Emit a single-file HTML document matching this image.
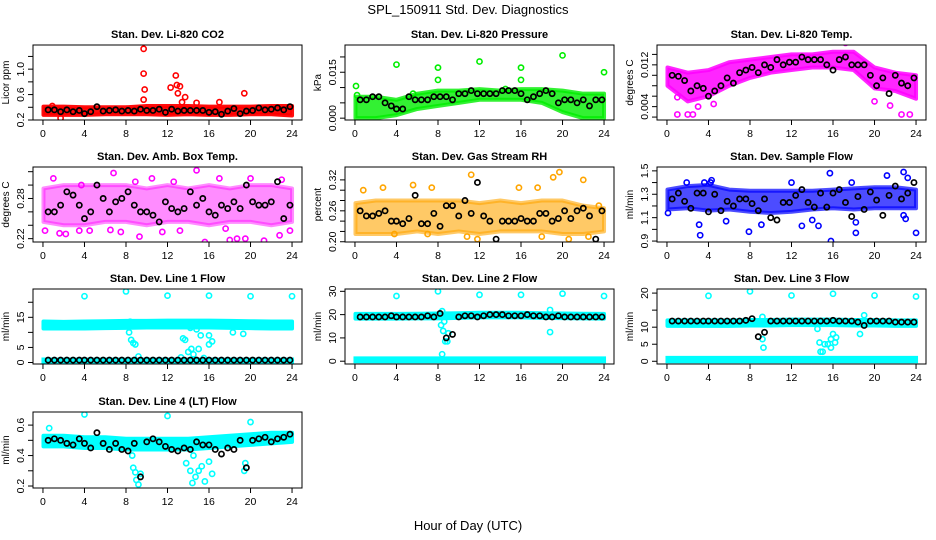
<!DOCTYPE html>
<html><head><meta charset="utf-8"><style>
body{margin:0;background:#fff;}
svg{display:block;font-family:"Liberation Sans",sans-serif;}
</style></head><body>
<svg id="chart" width="936" height="540" viewBox="0 0 936 540">
<text x="468" y="14" text-anchor="middle" font-size="13">SPL_150911  Std. Dev. Diagnostics</text>
<text x="468" y="530" text-anchor="middle" font-size="13">Hour of Day (UTC)</text>
</svg>
<script>
// ---- shared data ----
const hourTicks = [0,4,8,12,16,20,24];
const bandHours = [0,2,4,6,8,10,12,14,16,18,20,22,24];
const blackHours = [0.5,1.1,1.7,2.3,2.9,3.5,4.0,4.6,5.2,5.8,6.4,7.0,7.6,8.2,8.8,9.4,10.0,10.6,11.2,11.8,12.4,13.0,13.6,14.2,14.8,15.4,16.0,16.6,17.2,17.8,18.4,19.0,19.6,20.2,20.8,21.4,22.0,22.6,23.2,23.8];

// CO2
const co2Lo = [.28,.28,.28,.29,.29,.29,.28,.29,.28,.28,.29,.29,.27];
const co2Hi = [.41,.41,.40,.40,.40,.42,.42,.42,.41,.41,.41,.42,.42];
const co2Out = [[9.7,1.32],[9.7,0.93],[9.8,0.68],[9.7,0.52],[12.8,0.9],[12.3,0.71],[12.9,0.75],[13.2,0.73],[13,0.62],[13.7,0.56],[19.4,0.62],[1.7,0.23],[17,0.48],[14.8,0.47],[13.4,0.48],[0.9,0.42]];
const co2Black = [.36,.36,.33,.36,.33,.35,.30,.33,.41,.34,.35,.36,.34,.35,.34,.37,.35,.35,.37,.32,.37,.34,.35,.35,.35,.35,.32,.33,.29,.34,.38,.30,.34,.35,.39,.36,.37,.39,.36,.41];
// Pressure
const presLo = [.000,.000,.001,.003,.004,.005,.006,.006,.006,.005,.002,.000,.000];
const presHi = [.007,.007,.006,.008,.009,.009,.0095,.009,.0095,.0095,.009,.008,.008];
const presOut = [[0.1,0.0105],[4,0.0175],[8,0.0165],[8,0.0125],[12,0.0185],[16,0.0165],[16,0.0125],[20,0.0205],[24,0.015],[0.2,0.0075],[5.6,0.008],[14.5,0.0095]];
const presBlack = [.006,.006,.007,.007,.005,.004,.003,.003,.007,.006,.006,.006,.007,.007,.007,.006,.008,.008,.009,.008,.008,.008,.008,.009,.009,.009,.008,.006,.007,.008,.009,.008,.005,.006,.006,.005,.006,.004,.006,.006];
// Temp
const tempLo = [.008,.005,.006,.008,.0095,.0105,.011,.0115,.0115,.011,.0075,.007,.0055];
const tempHi = [.0115,.0105,.011,.0125,.013,.0135,.014,.014,.0145,.0145,.0115,.0105,.010];
const tempOut = [[1,0.0025],[2,0.0025],[2.5,0.0025],[17.2,0.0162],[22.6,0.0025],[23.4,0.0025],[4.5,0.0045],[20,0.005],[1,0.0058],[3,0.004],[21.5,0.0042]];
const tempBlack = [.010,.0098,.009,.007,.008,.0075,.006,.007,.008,.0095,.0085,.0105,.011,.0115,.0105,.012,.0115,.013,.012,.0125,.0125,.0135,.013,.013,.013,.012,.011,.013,.0135,.012,.012,.012,.010,.008,.0095,.0065,.010,.0085,.008,.0095];
// Amb box
const ambLo = [.245,.24,.24,.245,.245,.24,.245,.245,.24,.245,.245,.24,.245];
const ambHi = [.295,.30,.30,.30,.30,.295,.30,.295,.30,.295,.30,.30,.295];
const ambOut = [[6.8,0.318],[14.8,0.322],[12.6,0.305],[17,0.31],[20,0.31],[23,0.308],[15.6,0.215],[18,0.218],[18.7,0.22],[19.5,0.22],[21.3,0.217],[1.6,0.228],[2.2,0.227],[0.2,0.232],[3.5,0.232],[4.5,0.232],[6.5,0.233],[7.5,0.23],[9.3,0.223],[11.5,0.23],[22.8,0.225],[23.8,0.232],[17.6,0.235],[13.2,0.232],[10.5,0.31],[8.9,0.305],[3.7,0.3],[1,0.31]];
const ambBlack = [.26,.26,.27,.29,.285,.27,.25,.26,.30,.28,.26,.275,.28,.29,.27,.26,.26,.255,.245,.275,.265,.26,.265,.29,.27,.28,.26,.255,.27,.265,.275,.265,.30,.275,.27,.27,.275,.305,.25,.27];
// RH
const rhLo = [.215,.215,.215,.22,.215,.22,.215,.22,.22,.22,.215,.215,.22];
const rhHi = [.275,.28,.28,.28,.28,.28,.275,.28,.275,.28,.28,.27,.265];
const rhOut = [[11.2,0.33],[19.7,0.335],[19.1,0.325],[22,0.32],[0.8,0.30],[2.7,0.305],[5.6,0.31],[7.4,0.305],[15.8,0.305],[17.6,0.305],[11.8,0.205],[18,0.21],[20.6,0.205],[22.5,0.21],[3.8,0.215],[7,0.215],[10.8,0.21],[23.5,0.27]];
const rhBlack = [.26,.25,.25,.255,.26,.24,.24,.235,.245,.29,.235,.235,.255,.23,.27,.27,.25,.28,.255,.315,.25,.24,.205,.24,.24,.24,.245,.24,.24,.255,.255,.24,.245,.26,.245,.26,.265,.25,.205,.26];
// Sample flow
const sfLo = [1.17,1.18,1.16,1.17,1.15,1.14,1.15,1.17,1.18,1.17,1.18,1.18,1.18];
const sfHi = [1.34,1.37,1.38,1.34,1.33,1.33,1.33,1.33,1.34,1.35,1.36,1.36,1.34];
const sfOut = [[0.1,1.14],[3.1,1.04],[3.2,0.95],[7.9,0.98],[13,1.03],[14.6,1.03],[15.7,1.48],[15.8,0.9],[18.2,1.06],[18.2,0.97],[22.8,1.49],[23.2,1.44],[24,0.97],[3.6,1.4],[21.2,1.46],[17.8,1.4],[1.9,1.4],[4.2,1.4],[4.3,1.42],[9.1,1.04],[12,1.4],[23,1.09],[22.8,1.12],[5.7,1.07],[14,1.08]];
const sfBlack = [1.26,1.31,1.24,1.18,1.31,1.31,1.15,1.30,1.16,1.24,1.20,1.26,1.26,1.22,1.16,1.26,1.10,1.08,1.23,1.23,1.29,1.34,1.23,1.19,1.31,1.19,1.31,1.34,1.23,1.11,1.28,1.17,1.32,1.25,1.12,1.29,1.37,1.26,1.31,1.40];
// Line 1
const l1Lo = [11.3,11.3,11.3,11.4,11.5,11.6,11.6,11.6,11.6,11.5,11.4,11.3,11.3];
const l1Hi = [13.6,13.5,13.6,13.7,13.8,13.8,13.9,13.9,13.9,13.8,13.7,13.6,13.6];
const l1BaseHi = [1.0,1.0,1.0,1.0,1.0,1.0,1.0,1.0,1.0,1.0,1.0,1.0,1.0];
const l1Out = [[4,22],[8,23.6],[12,22.2],[16,22.2],[20,22],[24,22],[8.3,10],[8.5,7.5],[8.7,6.5],[8.9,6],[9.2,2],[13.3,1.7],[13.5,8],[13.7,7.5],[14,3.5],[14.3,4.5],[14.5,2.7],[15,4.5],[14.8,11],[15.2,9],[15.5,1.5],[16,6],[16,9],[16.3,7],[18.3,10],[19.3,9.5],[8.4,13.5],[14.2,11.5]];
const l1Black = [.8,.8,.8,.8,.8,.8,.8,.8,.8,.8,.8,.8,.8,.8,.8,.8,.8,.8,.8,.8,.8,.8,.8,.8,.8,.8,.8,.8,.8,.8,.8,.8,.8,.8,.8,.8,.8,.8,.8,.8];
// Line 2
const l2Lo = [18.3,18.3,18.3,18.4,18.4,18.6,18.8,18.8,18.8,18.6,18.5,18.4,18.3];
const l2Hi = [20.3,20.3,20.3,20.4,20.5,20.6,20.8,20.8,20.8,20.6,20.5,20.4,20.3];
const l2BaseHi = [1.2,1.2,1.2,1.2,1.2,1.2,1.2,1.2,1.2,1.2,1.2,1.2,1.2];
const l2Out = [[4,28],[8,30],[12,28.5],[16,28.5],[20,29],[24,28],[8.4,21.5],[8.3,15.5],[8.5,13],[8.7,8.5],[8.9,8.5],[8.4,3],[18.8,22],[18.8,12.5],[8.6,17],[9,12]];
const l2Black = [19,19,19,19,19,19.5,19,19,19,19,19,19.5,19,20.5,10,11.5,19,19.5,19.5,19,19.5,20,20,20,19.5,19.5,19.5,20,19.5,19.5,19,19,19.5,19,19,19,19,19,19,19];
// Line 3
const l3Lo = [10.4,10.4,10.4,10.4,10.5,10.5,10.6,10.6,10.6,10.5,10.5,10.4,10.4];
const l3Hi = [12.0,12.0,12.0,12.0,12.1,12.1,12.2,12.2,12.2,12.1,12.1,12.0,12.0];
const l3BaseHi = [1.0,1.0,1.0,1.0,1.0,1.0,1.0,1.0,1.0,1.0,1.0,1.0,1.0];
const l3Out = [[4,19.2],[8,20.5],[12,19.3],[16,19.8],[20,19.3],[24,19],[9.2,13],[9.3,4],[9.2,6.5],[14.5,9.5],[14.7,5.5],[14.8,2.8],[15.2,5],[15.5,5],[15.8,6.5],[16,8],[16.2,5.5],[15.8,4],[16.3,7],[19,13.5],[18.6,8],[15,2.8]];
const l3Black = [11.8,11.8,11.8,11.8,11.8,11.8,11.8,11.8,11.8,11.8,11.8,11.8,12,12.5,7.2,8.5,11.8,11.8,11.8,11.8,11.8,11.8,11.8,11.8,11.8,11.8,12,11.8,11.8,11.8,11.5,10.5,11.8,11.8,11.8,11.8,11.5,11.5,11.5,11.5];
// Line 4
const l4Lo = [.46,.46,.45,.45,.44,.44,.44,.44,.45,.46,.47,.48,.49];
const l4Hi = [.53,.53,.52,.52,.51,.51,.51,.51,.52,.53,.54,.55,.55];
const l4Out = [[4,0.67],[12,0.66],[20,0.62],[8.7,0.32],[9,0.24],[9.2,0.21],[9.4,0.28],[8.9,0.29],[13.8,0.35],[14.2,0.3],[14.4,0.22],[14.7,0.26],[15,0.3],[15.3,0.33],[15.6,0.23],[16,0.36],[16.3,0.28],[19.5,0.35],[19.4,0.3],[0.6,0.58],[8.6,0.4],[14.5,0.4]];
const l4Black = [.50,.51,.50,.48,.47,.51,.48,.45,.55,.48,.44,.48,.44,.43,.48,.26,.49,.51,.49,.46,.44,.43,.45,.44,.49,.47,.47,.44,.41,.45,.44,.50,.32,.50,.51,.52,.49,.51,.52,.54];

// ---- panel config ----
const panels = [
 {key:'co2',title:'Stan. Dev. Li-820 CO2',ylab:'Licor ppm',col:'#ff0000',op:0.95,ylim:[0.2,1.38],ticks:[.2,.4,.6,.8,1.0,1.2],labels:['0.2','0.6','1.0'],lo:co2Lo,hi:co2Hi,out:co2Out,blk:co2Black},
 {key:'pressure',title:'Stan. Dev. Li-820 Pressure',ylab:'kPa',col:'#00ee00',op:0.8,ylim:[-0.0006,0.0239],ticks:[0,.005,.01,.015,.02],labels:['0.000','0.015'],lo:presLo,hi:presHi,out:presOut,blk:presBlack},
 {key:'temp',title:'Stan. Dev. Li-820 Temp.',ylab:'degrees C',col:'#ff00ff',op:0.85,ylim:[0.00144,0.0158],ticks:[.002,.004,.006,.008,.01,.012,.014],labels:['0.004','0.012'],lo:tempLo,hi:tempHi,out:tempOut,blk:tempBlack},
 {key:'ambbox',title:'Stan. Dev. Amb. Box Temp.',ylab:'degrees C',col:'#ff00ff',op:0.45,ylim:[0.215,0.327],ticks:[.22,.24,.26,.28,.30,.32],labels:['0.22','0.28'],lo:ambLo,hi:ambHi,out:ambOut,blk:ambBlack},
 {key:'rh',title:'Stan. Dev. Gas Stream RH',ylab:'percent',col:'#ffa500',op:0.6,ylim:[0.1995,0.345],ticks:[.20,.22,.24,.26,.28,.30,.32],labels:['0.20','0.26','0.32'],lo:rhLo,hi:rhHi,out:rhOut,blk:rhBlack},
 {key:'sampleflow',title:'Stan. Dev. Sample Flow',ylab:'ml/min',col:'#0000ff',op:0.7,ylim:[0.892,1.533],ticks:[.9,1.0,1.1,1.2,1.3,1.4,1.5],labels:['0.9','1.1','1.3','1.5'],lo:sfLo,hi:sfHi,out:sfOut,blk:sfBlack},
 {key:'line1',title:'Stan. Dev. Line 1 Flow',ylab:'ml/min',col:'#00ffff',op:1,ylim:[-0.5,24.4],ticks:[0,5,10,15,20],labels:['0','5','15'],lo:l1Lo,hi:l1Hi,base:l1BaseHi,out:l1Out,blk:l1Black},
 {key:'line2',title:'Stan. Dev. Line 2 Flow',ylab:'ml/min',col:'#00ffff',op:1,ylim:[-1.2,31],ticks:[0,10,20,30],labels:['0','10','20','30'],lo:l2Lo,hi:l2Hi,base:l2BaseHi,out:l2Out,blk:l2Black},
 {key:'line3',title:'Stan. Dev. Line 3 Flow',ylab:'ml/min',col:'#00ffff',op:1,ylim:[-0.8,21.2],ticks:[0,5,10,15,20],labels:['0','5','10','20'],lo:l3Lo,hi:l3Hi,base:l3BaseHi,out:l3Out,blk:l3Black},
 {key:'line4',title:'Stan. Dev. Line 4 (LT) Flow',ylab:'ml/min',col:'#00ffff',op:1,ylim:[0.187,0.686],ticks:[.2,.3,.4,.5,.6],labels:['0.2','0.4','0.6'],lo:l4Lo,hi:l4Hi,out:l4Out,blk:l4Black}
];

const NS='http://www.w3.org/2000/svg';
const svg=document.getElementById('chart');
function mk(tag,attrs,parent){const e=document.createElementNS(NS,tag);for(const k in attrs)e.setAttribute(k,attrs[k]);(parent||svg).appendChild(e);return e;}

panels.forEach((p,i)=>{
  const c=i%3, r=Math.floor(i/3);
  const bx0=33+312*c, bx1=302+312*c, by0=45+122*r+(r===3?1:0), by1=120+122*r+(r===3?2:0);
  const xs=h=>bx0+(h+0.96)/25.92*(bx1-bx0);
  const ys=v=>by1-(v-p.ylim[0])/(p.ylim[1]-p.ylim[0])*(by1-by0);
  const g=mk('g',{});
  
  
  const clip=mk('clipPath',{id:'clip'+i},g);
  mk('rect',{x:bx0,y:by0,width:bx1-bx0,height:by1-by0},clip);
  const pg=mk('g',{'clip-path':'url(#clip'+i+')'},g);
  let d='M'+bandHours.map((h,k)=>xs(h===0?0.05:h)+','+ys(p.hi[k])).join('L')+'L'+bandHours.slice().reverse().map((h,k)=>xs(h===0?0.05:h)+','+ys(p.lo[bandHours.length-1-k])).join('L')+'Z';
  const band=mk('path',{d:d,fill:p.col,'fill-opacity':p.op,stroke:p.col,'stroke-width':4,'stroke-opacity':p.op,'stroke-linejoin':'round'},pg);
  
  
  if(p.base){
    let d2='M'+bandHours.map((h,k)=>xs(h===0?0.05:h)+','+ys(p.base[k])).join('L')+'L'+xs(24)+','+ys(0)+'L'+xs(0.05)+','+ys(0)+'Z';
    const bb=mk('path',{d:d2,fill:p.col,stroke:p.col,'stroke-width':4},pg);
    
    
  }
  p.out.forEach(o=>{
    const ci=mk('circle',{cx:xs(o[0]),cy:ys(o[1]),r:2.6,fill:'none',stroke:p.col,'stroke-width':1.6},pg);
    
    
  });
  p.blk.forEach((v,k)=>{
    const ci=mk('circle',{cx:xs(blackHours[k]),cy:ys(v),r:2.6,fill:'none',stroke:'#000','stroke-width':1.7},pg);
    
    
  });
  const box=mk('rect',{x:bx0,y:by0,width:bx1-bx0,height:by1-by0,fill:'none',stroke:'#000','stroke-width':1},g);
  
  
  hourTicks.forEach(h=>{
    mk('line',{x1:xs(h),x2:xs(h),y1:by1,y2:by1+5,stroke:'#000'},g);
    const t=mk('text',{x:xs(h),y:by1+17,'text-anchor':'middle','font-size':10.5},g);
    t.textContent=h;
    
    
  });
  p.ticks.forEach(v=>{mk('line',{x1:bx0-5,x2:bx0,y1:ys(v),y2:ys(v),stroke:'#000'},g);});
  p.labels.forEach(l=>{
    const v=parseFloat(l), yy=ys(v), xx=bx0-9;
    const t=mk('text',{x:xx,y:yy,'text-anchor':'middle','font-size':10.5,transform:'rotate(-90 '+xx+' '+yy+')'},g);
    t.textContent=l;
    
    
  });
  const yt=mk('text',{x:bx0-24,y:(by0+by1)/2,'text-anchor':'middle','font-size':10,transform:'rotate(-90 '+(bx0-24)+' '+((by0+by1)/2)+')'},g);
  yt.textContent=p.ylab;
  
  
  const tt=mk('text',{x:(bx0+bx1)/2,y:by0-7,'text-anchor':'middle','font-size':11,'font-weight':'bold'},g);
  tt.textContent=p.title;
  
  
});
</script>
</body></html>
